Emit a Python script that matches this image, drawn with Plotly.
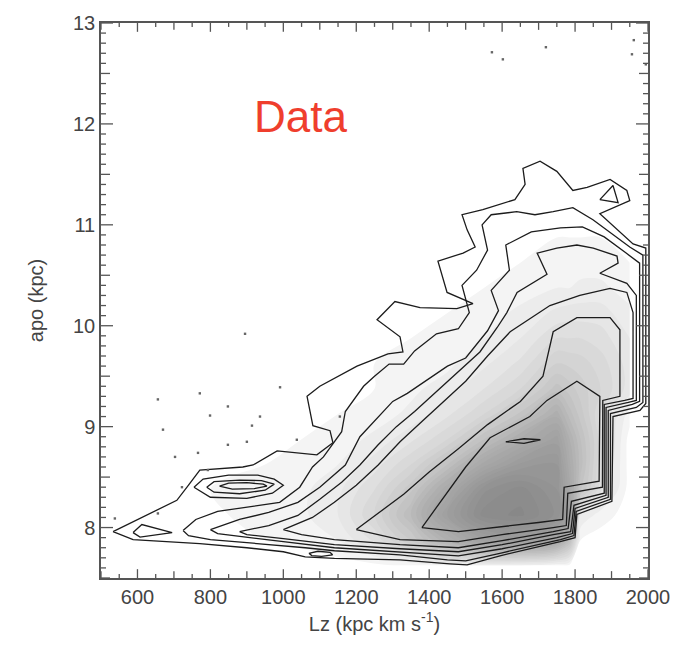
import plotly.graph_objects as go

# ---------------------------------------------------------------------------
# Star-count density (fraction of dot coverage) on a coarse Lz / apo grid
# ---------------------------------------------------------------------------
grid_lz = [550, 650, 750, 850, 950, 1050, 1150, 1250, 1350, 1450, 1550, 1650,
           1750, 1785, 1815, 1870, 1950]
grid_apo = [7.625, 7.875, 8.125, 8.375, 8.625, 8.875, 9.125, 9.375, 9.625,
            9.875, 10.125, 10.375, 10.625, 10.875, 11.125]
grid_density = [
    [0, 0, 0, 0, 0, 0, 0, 0.01, 0.03, 0.05, 0.06, 0.06, 0.03, 0.01, 0, 0, 0],
    [0, 0, 0, 0.01, 0.02, 0.03, 0.06, 0.15, 0.30, 0.50, 0.68, 0.72, 0.60, 0.40, 0.02, 0, 0],
    [0, 0.01, 0.01, 0.02, 0.03, 0.05, 0.10, 0.22, 0.42, 0.70, 0.92, 0.95, 0.85, 0.70, 0.10, 0.04, 0],
    [0, 0, 0.01, 0.03, 0.03, 0.05, 0.09, 0.18, 0.33, 0.58, 0.85, 0.92, 0.82, 0.60, 0.35, 0.15, 0],
    [0, 0, 0, 0.01, 0.02, 0.04, 0.06, 0.12, 0.22, 0.38, 0.60, 0.75, 0.78, 0.55, 0.40, 0.18, 0],
    [0, 0, 0, 0, 0.01, 0.02, 0.04, 0.07, 0.13, 0.22, 0.38, 0.55, 0.68, 0.50, 0.38, 0.20, 0],
    [0, 0, 0, 0, 0, 0.01, 0.02, 0.04, 0.07, 0.13, 0.22, 0.35, 0.52, 0.40, 0.32, 0.18, 0.04],
    [0, 0, 0, 0, 0, 0, 0.01, 0.02, 0.05, 0.08, 0.14, 0.22, 0.36, 0.32, 0.28, 0.22, 0.12],
    [0, 0, 0, 0, 0, 0, 0.01, 0.02, 0.03, 0.05, 0.09, 0.15, 0.26, 0.25, 0.24, 0.20, 0.12],
    [0, 0, 0, 0, 0, 0, 0, 0.01, 0.02, 0.03, 0.06, 0.10, 0.18, 0.18, 0.18, 0.16, 0.10],
    [0, 0, 0, 0, 0, 0, 0, 0, 0.01, 0.02, 0.04, 0.07, 0.11, 0.12, 0.12, 0.12, 0.07],
    [0, 0, 0, 0, 0, 0, 0, 0, 0, 0.01, 0.02, 0.04, 0.06, 0.06, 0.07, 0.07, 0.04],
    [0, 0, 0, 0, 0, 0, 0, 0, 0, 0.01, 0.01, 0.02, 0.03, 0.03, 0.04, 0.04, 0.02],
    [0, 0, 0, 0, 0, 0, 0, 0, 0, 0, 0.01, 0.01, 0.02, 0.02, 0.02, 0.02, 0.01],
    [0, 0, 0, 0, 0, 0, 0, 0, 0, 0, 0, 0.01, 0.01, 0.01, 0.01, 0.01, 0],
]

# ---------------------------------------------------------------------------
# Density contour paths (Lz, apo), outermost level first
# ---------------------------------------------------------------------------
level1_lz = [533, 643, 695, 708, 740, 771, 889, 917, 983, 1092, 1136, 1128, 1081, 1065,
             1100, 1202, 1287, 1328, 1320, 1257, 1306, 1375, 1476, 1520, 1449, 1424,
             1493, 1526, 1504, 1490, 1547, 1635, 1663, 1657, 1704, 1750, 1794, 1833,
             1896, 1942, 1950, 1868, 1959, 1994, 1994, 1978, 1904, 1901, 1805, 1800,
             1759, 1594, 1504, 1457, 1320, 1140, 1060, 1000, 900, 771, 588, 533]
level1_apo = [7.96, 8.16, 8.25, 8.27, 8.42, 8.57, 8.60, 8.62, 8.76, 8.72, 8.84, 8.96, 9.01,
              9.30, 9.40, 9.60, 9.72, 9.74, 9.89, 10.06, 10.24, 10.18, 10.17, 10.22, 10.33,
              10.64, 10.72, 10.78, 10.95, 11.10, 11.15, 11.25, 11.40, 11.56, 11.63, 11.53,
              11.34, 11.37, 11.45, 11.34, 11.24, 11.11, 10.81, 10.77, 9.23, 9.16, 9.10,
              8.26, 8.13, 7.90, 7.86, 7.72, 7.63, 7.64, 7.68, 7.695, 7.71, 7.76, 7.80,
              7.84, 7.88, 7.96]

level2_lz = [725, 760, 820, 900, 990, 1045, 1080, 1110, 1160, 1170, 1220, 1250, 1290, 1330,
             1360, 1420, 1480, 1510, 1490, 1530, 1560, 1545, 1570, 1640, 1690, 1740, 1794,
             1849, 1950, 1986, 1986, 1968, 1897, 1897, 1803, 1797, 1760, 1600, 1500, 1450,
             1320, 1140, 1060, 900, 800, 740, 725]
level2_apo = [7.97, 8.08, 8.16, 8.20, 8.25, 8.40, 8.60, 8.70, 8.95, 9.15, 9.40, 9.50, 9.62,
              9.62, 9.75, 9.92, 9.97, 10.13, 10.40, 10.55, 10.75, 11.00, 11.10, 11.13, 11.10,
              11.13, 11.17, 11.05, 10.78, 10.70, 9.24, 9.19, 9.13, 8.28, 8.16, 7.92, 7.88,
              7.75, 7.67, 7.68, 7.73, 7.77, 7.80, 7.85, 7.88, 7.92, 7.97]

level3_lz = [800, 880, 960, 1040, 1100, 1170, 1210, 1260, 1300, 1340, 1400, 1450, 1500,
             1560, 1590, 1570, 1620, 1610, 1680, 1760, 1820, 1880, 1940, 1977, 1977, 1957,
             1891, 1891, 1800, 1793, 1750, 1600, 1480, 1320, 1140, 1000, 880, 820, 800]
level3_apo = [7.98, 8.08, 8.15, 8.25, 8.40, 8.62, 8.90, 9.10, 9.25, 9.33, 9.48, 9.60, 9.68,
              9.95, 10.15, 10.35, 10.55, 10.80, 10.93, 10.97, 10.98, 10.88, 10.72, 10.62,
              9.25, 9.22, 9.16, 8.30, 8.19, 7.94, 7.90, 7.79, 7.72, 7.76, 7.80, 7.86, 7.91,
              7.94, 7.98]

level4_lz = [880, 960, 1040, 1100, 1160, 1210, 1260, 1310, 1360, 1420, 1480, 1539, 1586,
             1613, 1641, 1723, 1696, 1750, 1805, 1850, 1915, 1918, 1868, 1942, 1968, 1968,
             1946, 1885, 1885, 1797, 1788, 1740, 1600, 1480, 1320, 1140, 1000, 900, 880]
level4_apo = [7.96, 8.02, 8.12, 8.28, 8.45, 8.62, 8.82, 9.00, 9.15, 9.35, 9.55, 9.74, 9.98,
              10.13, 10.33, 10.51, 10.72, 10.77, 10.80, 10.77, 10.69, 10.62, 10.52, 10.42,
              10.30, 9.26, 9.24, 9.19, 8.32, 8.22, 7.96, 7.93, 7.83, 7.76, 7.79, 7.83, 7.89,
              7.93, 7.96]

level5_lz = [1000, 1080, 1140, 1200, 1260, 1320, 1380, 1440, 1500, 1560, 1622, 1731, 1813,
             1896, 1942, 1959, 1959, 1936, 1880, 1880, 1790, 1781, 1740, 1600, 1480, 1320,
             1140, 1050, 1000]
level5_apo = [7.98, 8.10, 8.25, 8.42, 8.62, 8.85, 9.05, 9.25, 9.45, 9.70, 9.94, 10.20, 10.30,
              10.37, 10.33, 10.13, 9.28, 9.26, 9.22, 8.34, 8.26, 7.99, 7.96, 7.87, 7.80,
              7.83, 7.88, 7.93, 7.98]

level6_lz = [1200, 1260, 1330, 1400, 1480, 1560, 1650, 1712, 1740, 1805, 1896, 1923, 1923,
             1876, 1875, 1780, 1776, 1740, 1600, 1480, 1320, 1200]
level6_apo = [7.98, 8.14, 8.33, 8.55, 8.78, 9.02, 9.25, 9.50, 9.94, 10.08, 10.08, 9.96, 9.30,
              9.26, 8.40, 8.34, 8.02, 8.00, 7.93, 7.86, 7.88, 7.98]

level7_lz = [1380, 1440, 1500, 1567, 1676, 1723, 1805, 1868, 1866, 1770, 1766, 1700, 1600,
             1480, 1380]
level7_apo = [8.00, 8.30, 8.60, 8.89, 9.10, 9.26, 9.45, 9.30, 8.46, 8.40, 8.08, 8.05, 8.01,
              7.96, 8.00]

level8_lz = [1610, 1660, 1705, 1660, 1610]
level8_apo = [8.85, 8.88, 8.87, 8.835, 8.85]

# small closed islands: the clump near Lz ~ 900, the tip wedge, the top-right
# triangle and the little loop on the lower edge
clump_outer_lz = [755, 780, 850, 930, 975, 1000, 970, 900, 800, 755]
clump_outer_apo = [8.40, 8.48, 8.52, 8.52, 8.48, 8.42, 8.34, 8.29, 8.30, 8.40]
clump_mid_lz = [790, 810, 880, 940, 975, 950, 880, 810, 790]
clump_mid_apo = [8.40, 8.455, 8.47, 8.465, 8.43, 8.37, 8.335, 8.35, 8.40]
clump_inner_lz = [825, 850, 900, 945, 955, 920, 860, 825]
clump_inner_apo = [8.41, 8.44, 8.445, 8.43, 8.41, 8.385, 8.38, 8.41]
tip_lz = [588, 612, 695, 607, 588]
tip_apo = [7.95, 8.03, 7.95, 7.905, 7.95]
corner_lz = [1868, 1904, 1918, 1868]
corner_apo = [11.25, 11.39, 11.22, 11.25]
edge_loop_lz = [1070, 1095, 1128, 1135, 1105, 1078, 1070]
edge_loop_apo = [7.745, 7.765, 7.755, 7.73, 7.715, 7.722, 7.745]

# isolated stars in the sparse outskirts
stray_lz = [656, 771, 848, 900, 703, 670, 799, 766, 793, 722, 538, 656, 848, 914, 991,
            936, 1037, 1155, 895, 1572, 1602, 1720, 1961, 1956, 1994]
stray_apo = [9.27, 9.33, 9.20, 8.85, 8.70, 8.97, 9.11, 8.74, 8.57, 8.40, 8.09, 8.14, 8.82,
             9.01, 9.39, 9.10, 8.87, 9.10, 9.92, 12.71, 12.64, 12.76, 12.83, 12.69, 12.59]

# axis tick positions
x_label_ticks = [600, 800, 1000, 1200, 1400, 1600, 1800, 2000]
x_mid_ticks = [500, 700, 900, 1100, 1300, 1500, 1700, 1900]
x_small_ticks = [550, 650, 750, 850, 950, 1050, 1150, 1250, 1350, 1450, 1550, 1650,
                 1750, 1850, 1950]
y_label_ticks = [8, 9, 10, 11, 12, 13]
y_mid_ticks = [7.5, 8.5, 9.5, 10.5, 11.5, 12.5]
y_small_ticks = [round(7.5 + 0.1 * i, 1) for i in range(56) if i % 5 != 0]

X_RANGE = [500, 2000]
Y_RANGE = [7.5, 13]
MARGIN = dict(l=101, r=34, t=12, b=77)
WIDTH, HEIGHT = 682, 655
PLOT_W = WIDTH - MARGIN["l"] - MARGIN["r"]
PLOT_H = HEIGHT - MARGIN["t"] - MARGIN["b"]

AXIS_GREY = "#555555"
TEXT_GREY = "#444444"
LINE_DARK = "#1c1c1c"
FONT = "Liberation Sans, Arial, sans-serif"

fig = go.Figure()

# grey star cloud as finely stepped filled density bands
fig.add_trace(go.Contour(
    x=grid_lz, y=grid_apo, z=grid_density, zmin=0, zmax=1,
    contours=dict(coloring="fill", start=0.02, end=0.98, size=0.04),
    line=dict(width=0, smoothing=1.0),
    colorscale=[[0, "#ffffff"], [0.05, "#f1f1f1"], [0.2, "#d9d9d9"],
                [0.5, "#b0b0b0"], [1, "#858585"]],
    showscale=False, hoverinfo="skip",
))

paths = [
    (level1_lz, level1_apo), (level2_lz, level2_apo), (level3_lz, level3_apo),
    (level4_lz, level4_apo), (level5_lz, level5_apo), (level6_lz, level6_apo),
    (level7_lz, level7_apo), (level8_lz, level8_apo),
    (clump_outer_lz, clump_outer_apo), (clump_mid_lz, clump_mid_apo),
    (clump_inner_lz, clump_inner_apo), (tip_lz, tip_apo),
    (corner_lz, corner_apo), (edge_loop_lz, edge_loop_apo),
]
for xs, ys in paths:
    fig.add_trace(go.Scatter(
        x=xs, y=ys, mode="lines",
        line=dict(color=LINE_DARK, width=1.3),
        hoverinfo="skip", showlegend=False,
    ))

fig.add_trace(go.Scatter(
    x=stray_lz, y=stray_apo, mode="markers",
    marker=dict(size=2.4, color="#666666", symbol="square"),
    hoverinfo="skip", showlegend=False,
))

fig.add_annotation(
    x=1046, y=12.07, xref="x", yref="y", text="Data", showarrow=False,
    font=dict(family=FONT, size=44, color="#ef3e2d"),
    xanchor="center", yanchor="middle",
)

# inward tick marks on all four sides of the frame
tick_shapes = []
for vals, length in ((x_label_ticks, 9), (x_mid_ticks, 7), (x_small_ticks, 4)):
    frac = length / PLOT_H
    for v in vals:
        for y0, y1 in ((0, frac), (1 - frac, 1)):
            tick_shapes.append(dict(type="line", xref="x", yref="paper",
                                    x0=v, x1=v, y0=y0, y1=y1,
                                    line=dict(color=AXIS_GREY, width=1.3)))
for vals, length in ((y_label_ticks, 12), (y_mid_ticks, 9), (y_small_ticks, 5)):
    frac = length / PLOT_W
    for v in vals:
        for x0, x1 in ((0, frac), (1 - frac, 1)):
            tick_shapes.append(dict(type="line", xref="paper", yref="y",
                                    x0=x0, x1=x1, y0=v, y1=v,
                                    line=dict(color=AXIS_GREY, width=1.3)))

fig.update_layout(
    width=WIDTH, height=HEIGHT,
    margin=MARGIN,
    paper_bgcolor="white", plot_bgcolor="white",
    showlegend=False,
    shapes=tick_shapes,
    xaxis=dict(
        range=X_RANGE, showgrid=False, zeroline=False,
        showline=True, linecolor=AXIS_GREY, linewidth=1.5, mirror=True,
        ticks="", tickmode="array", tickvals=x_label_ticks,
        tickfont=dict(family=FONT, size=20, color=TEXT_GREY),
        title=dict(text="Lz (kpc km s<sup>-1</sup>)", standoff=10,
                   font=dict(family=FONT, size=20, color=TEXT_GREY)),
    ),
    yaxis=dict(
        range=Y_RANGE, showgrid=False, zeroline=False,
        showline=True, linecolor=AXIS_GREY, linewidth=1.5, mirror=True,
        ticks="", tickmode="array", tickvals=y_label_ticks,
        tickfont=dict(family=FONT, size=20, color=TEXT_GREY),
        title=dict(text="apo (kpc)", standoff=24,
                   font=dict(family=FONT, size=20, color=TEXT_GREY)),
    ),
)

fig.write_html("out.html")
